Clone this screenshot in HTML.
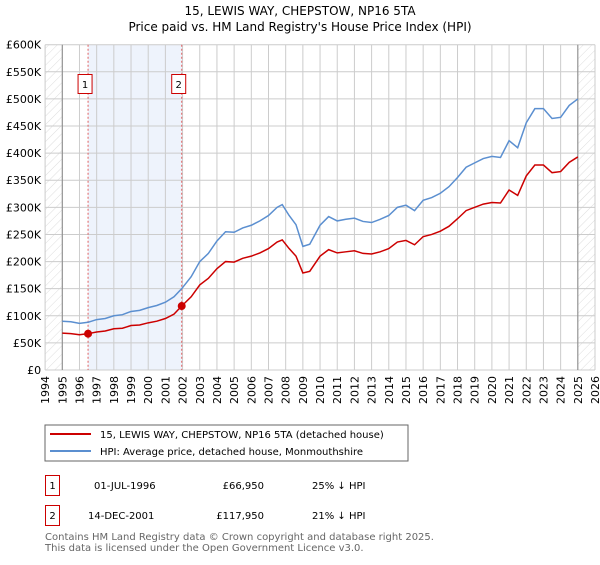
<!DOCTYPE html>
<html><head><meta charset="utf-8"><style>
body{margin:0;background:#fff;font-family:"Liberation Sans","DejaVu Sans",sans-serif;}
svg text{font-family:"DejaVu Sans","Liberation Sans",sans-serif;}
</style></head><body>
<svg width="600" height="560" xmlns="http://www.w3.org/2000/svg">
<defs><pattern id="hatch" width="6" height="6" patternUnits="userSpaceOnUse" patternTransform="rotate(45)"><line x1="0" y1="0" x2="0" y2="6" stroke="#ddd" stroke-width="1"/></pattern></defs>
<text x="300" y="15" text-anchor="middle" font-size="12">15, LEWIS WAY, CHEPSTOW, NP16 5TA</text>
<text x="300" y="31" text-anchor="middle" font-size="12">Price paid vs. HM Land Registry's House Price Index (HPI)</text>
<g id="plot"></g>
<rect x="45" y="425" width="363" height="36" fill="#fff" stroke="#666"/>
<line x1="50" y1="434" x2="91" y2="434" stroke="#cc0000" stroke-width="2"/>
<text x="100" y="438" font-size="10">15, LEWIS WAY, CHEPSTOW, NP16 5TA (detached house)</text>
<line x1="50" y1="451" x2="91" y2="451" stroke="#5b8fd0" stroke-width="2"/>
<text x="100" y="455" font-size="10">HPI: Average price, detached house, Monmouthshire</text>
<g font-size="10">
<rect x="45.5" y="475.5" width="14" height="20" fill="#fff" stroke="#cc0000"/>
<text x="52.5" y="489" text-anchor="middle">1</text>
<text x="94" y="489">01-JUL-1996</text>
<text x="264" y="489" text-anchor="end">£66,950</text>
<text x="312" y="489">25% ↓ HPI</text>
<rect x="45.5" y="505.5" width="14" height="20" fill="#fff" stroke="#cc0000"/>
<text x="52.5" y="519" text-anchor="middle">2</text>
<text x="88" y="519">14-DEC-2001</text>
<text x="264" y="519" text-anchor="end">£117,950</text>
<text x="312" y="519">21% ↓ HPI</text>
</g>
<text x="45" y="540" font-size="10" fill="#666">Contains HM Land Registry data © Crown copyright and database right 2025.</text>
<text x="45" y="551" font-size="10" fill="#666">This data is licensed under the Open Government Licence v3.0.</text>
</svg>
<script>
const yearTicks=[1994,1995,1996,1997,1998,1999,2000,2001,2002,2003,2004,2005,2006,2007,2008,2009,2010,2011,2012,2013,2014,2015,2016,2017,2018,2019,2020,2021,2022,2023,2024,2025,2026];
const priceTicks=[0,50,100,150,200,250,300,350,400,450,500,550,600];
const dates=[1995,1995.5,1996,1996.5,1997,1997.5,1998,1998.5,1999,1999.5,2000,2000.5,2001,2001.5,2001.95,2002.5,2003,2003.5,2004,2004.5,2005,2005.5,2006,2006.5,2007,2007.5,2007.8,2008.2,2008.6,2009,2009.4,2010,2010.5,2011,2011.5,2012,2012.5,2013,2013.5,2014,2014.5,2015,2015.5,2016,2016.5,2017,2017.5,2018,2018.5,2019,2019.5,2020,2020.5,2021,2021.5,2022,2022.5,2023,2023.5,2024,2024.5,2025];
const hpiValues=[90,89,86,88,93,95,100,102,108,110,115,119,125,135,150,172,200,215,238,255,254,262,267,275,285,300,305,285,268,228,232,267,283,275,278,280,274,272,278,285,300,304,294,313,318,326,338,355,374,382,390,394,392,423,410,456,482,482,464,466,488,500];
const priceValues=[68,67,65,67,70,72,76,77,82,83,87,90,95,103,118,135,157,169,187,200,199,206,210,216,224,236,240,224,210,179,182,210,222,216,218,220,215,214,218,224,236,239,231,246,250,256,265,279,294,300,306,309,308,332,322,358,378,378,364,366,383,393];
const saleDates=[1996.5,2001.95];
const saleValues=[66.95,117.95];
const saleLabels=["1","2"];
const X0=45.1,X1=595,Y0=370,Y1=44.7;
const xs=y=>X0+(y-1994)/(2026-1994)*(X1-X0);
const ys=v=>Y0-v/600*(Y0-Y1);
const NS="http://www.w3.org/2000/svg";
const g=document.getElementById('plot');
function mk(t,a){const e=document.createElementNS(NS,t);for(const k in a)e.setAttribute(k,a[k]);g.appendChild(e);return e;}
let e;
e=mk('rect',{x:X0,y:Y1,width:X1-X0,height:Y0-Y1,fill:'#fff'});

e=mk('rect',{x:xs(saleDates[0]),y:Y1,width:xs(saleDates[1])-xs(saleDates[0]),height:Y0-Y1,fill:'#eef3fc'});

e=mk('rect',{x:X0,y:Y1,width:xs(1995)-X0,height:Y0-Y1,fill:'url(#hatch)'});

e=mk('rect',{x:xs(2025),y:Y1,width:X1-xs(2025),height:Y0-Y1,fill:'url(#hatch)'});

yearTicks.forEach(y=>{
 e=mk('line',{x1:xs(y),x2:xs(y),y1:Y1,y2:Y0,stroke:'#ccc','stroke-width':1});
 
 e=mk('text',{x:0,y:0,'font-size':11,'text-anchor':'end',transform:`translate(${xs(y)+4},${Y0+6}) rotate(-90)`});
 e.textContent=y;
 
});
priceTicks.forEach(v=>{
 e=mk('line',{x1:X0,x2:X1,y1:ys(v),y2:ys(v),stroke:'#ccc','stroke-width':1});
 
 e=mk('text',{x:X0-4,y:ys(v)+4,'font-size':11,'text-anchor':'end'});
 e.textContent=v===0?'£0':'£'+v+'K';
 
});
[1995,2025].forEach(y=>{e=mk('line',{x1:xs(y),x2:xs(y),y1:Y1,y2:Y0,stroke:'#888','stroke-width':1});
 });
saleDates.forEach(d=>{e=mk('line',{x1:xs(d),x2:xs(d),y1:Y1,y2:Y0,stroke:'#e06060','stroke-width':1,'stroke-dasharray':'2,2'});
 });
e=mk('polyline',{points:dates.map((d,i)=>xs(d)+','+ys(hpiValues[i])).join(' '),fill:'none',stroke:'#5b8fd0','stroke-width':1.5});

e=mk('polyline',{points:dates.map((d,i)=>xs(d)+','+ys(priceValues[i])).join(' '),fill:'none',stroke:'#cc0000','stroke-width':1.5});

saleDates.forEach((d,i)=>{
 e=mk('circle',{cx:xs(d),cy:ys(saleValues[i]),r:4,fill:'#cc0000'});
 
 e=mk('rect',{x:xs(d)-10,y:74.5,width:14,height:19,fill:'#fff',stroke:'#cc0000'});
 
 e=mk('text',{x:xs(d)-3,y:88,'font-size':10,'text-anchor':'middle'});
 e.textContent=saleLabels[i];
 
});
</script>
</body></html>
